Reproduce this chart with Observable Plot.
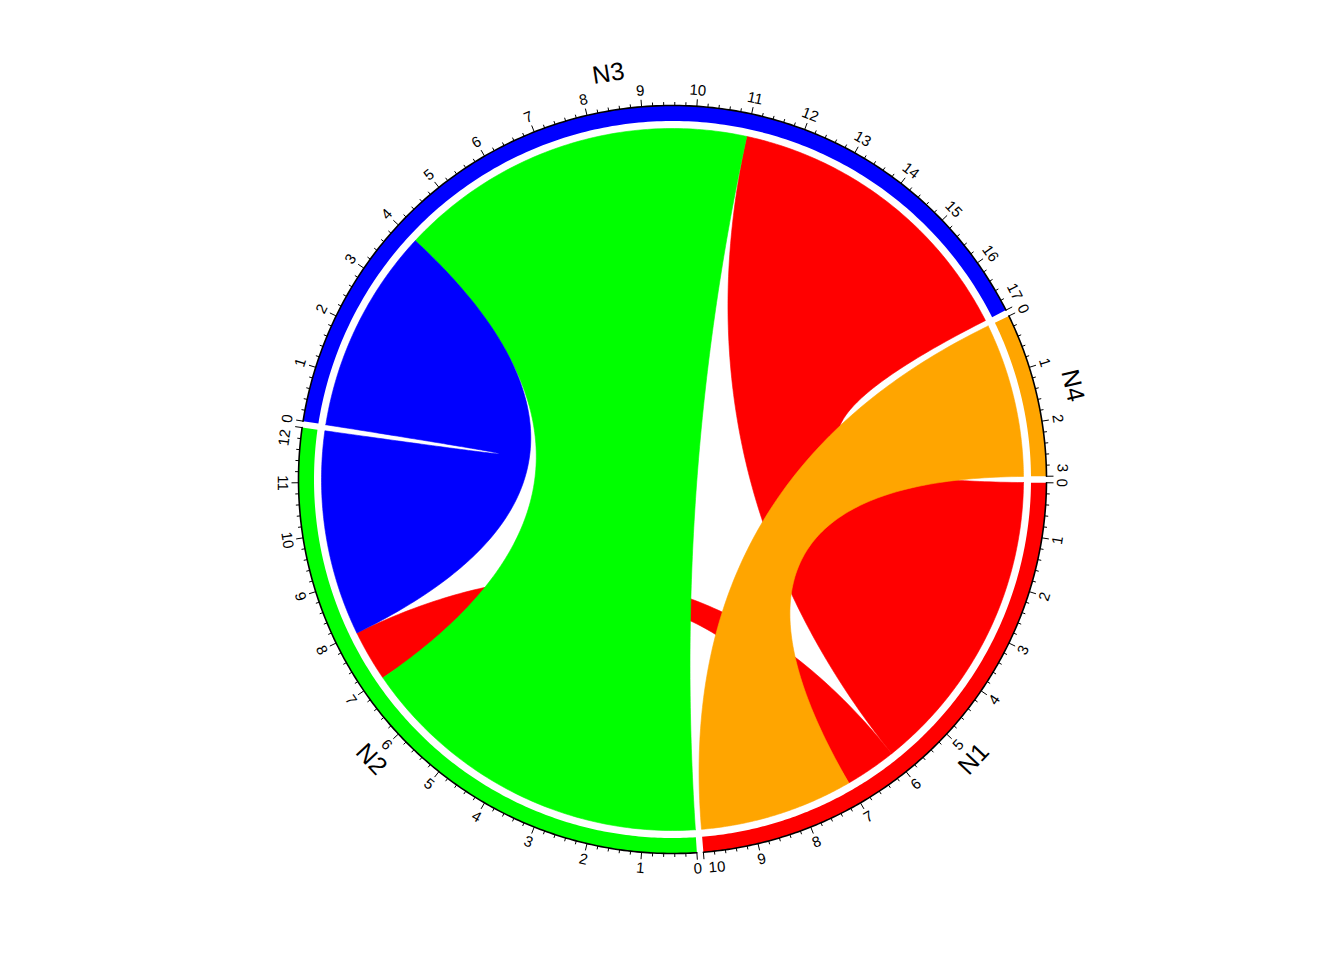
<!DOCTYPE html>
<html>
<head>
<meta charset="utf-8">
<script src="https://cdn.jsdelivr.net/npm/d3@7"></script>
<script src="https://cdn.jsdelivr.net/npm/@observablehq/plot@0.6"></script>
<style>
  html, body { margin: 0; padding: 0; background: #ffffff; }
  #chart { width: 1344px; height: 960px; }
</style>
</head>
<body>
<div id="chart"></div>
<script>
// ---------- data ----------
const sectors = ["N1", "N2", "N3", "N4"];
const sectorColors = ["#FF0000", "#00FF00", "#0000FF", "#FFA500"];
const linkFrom = ["N2", "N1", "N1", "N3", "N4"];
const linkTo = ["N3", "N3", "N2", "N2", "N1"];
const linkValue = [7, 6, 1, 4, 3];

// ---------- layout (style) ----------
const W = 1344, H = 960;
const CX = 672, CY = 479, RPX = 374;      // centre and axis radius in px
const GAP = 1;                             // degrees between sectors
const rChord = 351 / RPX, rGridIn = 358.5 / RPX, rAxis = 1;
const rMajor = 381 / RPX, rMinor = 377.5 / RPX;
const rTickLab = 390 / RPX, rName = 411 / RPX;
const lastShift = 4 / 390 * 180 / Math.PI;   // degrees: pull last label inside sector
const FONT = "'Liberation Sans', Arial, Helvetica, sans-serif";

// sector sizes from the links
const idx = Object.fromEntries(sectors.map((s, i) => [s, i]));
const sectorLen = sectors.map(s =>
  d3.sum(linkValue.filter((v, k) => linkFrom[k] === s || linkTo[k] === s)));
const total = d3.sum(sectorLen);
const dpu = (360 - GAP * sectors.length) / total;
const sectorStart = [];
{ let cum = 0; sectors.forEach((s, i) => { sectorStart.push(GAP / 2 + cum * dpu + i * GAP); cum += sectorLen[i]; }); }
const ang = (i, p) => sectorStart[i] + p * dpu;

// slot allocation: outgoing ends first, then incoming, in row order
const fromPos = [], toPos = [];
sectors.forEach((s, i) => {
  let c = 0;
  linkValue.forEach((v, k) => { if (linkFrom[k] === s) { fromPos[k] = [c, c + v]; c += v; } });
  linkValue.forEach((v, k) => { if (linkTo[k] === s) { toPos[k] = [c, c + v]; c += v; } });
});

const rad = a => a * Math.PI / 180;
const pt = (r, a) => [r * Math.cos(rad(a)), r * Math.sin(rad(a))];
function arcPts(r, a0, a1, n = 80) {
  const out = [];
  for (let j = 0; j <= n; j++) out.push(pt(r, a0 + (a1 - a0) * j / n));
  return out;
}
function bez(p0, p2, n = 120) {   // quadratic, control point at centre
  const out = [];
  for (let j = 0; j <= n; j++) {
    const t = j / n, a = (1 - t) * (1 - t), b = t * t;
    out.push([a * p0[0] + b * p2[0], a * p0[1] + b * p2[1]]);
  }
  return out;
}

// ribbons, drawn in order of source sector
const order = d3.range(linkValue.length).sort((a, b) => idx[linkFrom[a]] - idx[linkFrom[b]] || a - b);
const ribbonMarks = order.map(k => {
  const si = idx[linkFrom[k]], ti = idx[linkTo[k]];
  const s0 = ang(si, fromPos[k][0]), s1 = ang(si, fromPos[k][1]);
  const t0 = ang(ti, toPos[k][0]), t1 = ang(ti, toPos[k][1]);
  const pts = [
    ...arcPts(rChord, s0, s1),
    ...bez(pt(rChord, s1), pt(rChord, t0)),
    ...arcPts(rChord, t0, t1),
    ...bez(pt(rChord, t1), pt(rChord, s0))
  ].map(([x, y]) => ({x, y}));
  const col = sectorColors[si];
  return Plot.line(pts, {x: "x", y: "y", fill: col, stroke: col, strokeWidth: 0.6, curve: "linear"});
});

// grid track
const gridMarks = sectors.map((s, i) => {
  const a0 = sectorStart[i], a1 = ang(i, sectorLen[i]);
  const pts = [...arcPts(rAxis, a0, a1, 200), ...arcPts(rGridIn, a1, a0, 200)].map(([x, y]) => ({x, y}));
  return Plot.line(pts, {x: "x", y: "y", fill: sectorColors[i], stroke: "none", curve: "linear"});
});

// axis line
const axisPts = [];
sectors.forEach((s, i) => {
  arcPts(rAxis, sectorStart[i], ang(i, sectorLen[i]), 200).forEach(([x, y]) => axisPts.push({s, x, y}));
});

// ticks
const ticks = [];
const tickLabels = [];
const upper = a => (((a % 360) + 360) % 360) >= 180;
const rot = a => { const m = ((a % 360) + 360) % 360; return m >= 180 ? m + 90 : m - 90; };
sectors.forEach((s, i) => {
  for (let k = 0; k <= sectorLen[i] * 5; k++) {
    const a = ang(i, k / 5);
    const major = k % 5 === 0;
    const [x1, y1] = pt(rAxis, a), [x2, y2] = pt(major ? rMajor : rMinor, a);
    ticks.push({x1, y1, x2, y2});
    if (major) {
      const last = k / 5 === sectorLen[i];
      const la = last ? a - lastShift : a;
      const [x, y] = pt(rTickLab, la);
      const anchor = last ? (upper(a) ? "end" : "start") : "middle";
      tickLabels.push({x, y, text: String(k / 5), rotate: rot(a), anchor});
    }
  }
});
const names = sectors.map((s, i) => {
  const a = ang(i, sectorLen[i] / 2);
  const [x, y] = pt(rName, a);
  return {x, y, text: s, rotate: rot(a)};
});

const labelMark = anchor => Plot.text(tickLabels.filter(d => d.anchor === anchor), {
  x: "x", y: "y", text: "text", rotate: "rotate", fontSize: 15, fill: "#000000",
  textAnchor: anchor, lineAnchor: "middle", fontFamily: FONT
});

const chart = Plot.plot({
  width: W, height: H, margin: 0,
  x: {domain: [-CX / RPX, (W - CX) / RPX], range: [0, W], axis: null},
  y: {domain: [-CY / RPX, (H - CY) / RPX], range: [0, H], axis: null},
  style: {background: "#ffffff", fontFamily: FONT},
  marks: [
    ...ribbonMarks,
    ...gridMarks,
    Plot.line(axisPts, {x: "x", y: "y", z: "s", stroke: "#000000", strokeWidth: 1.6, curve: "linear"}),
    Plot.link(ticks, {x1: "x1", y1: "y1", x2: "x2", y2: "y2", stroke: "#000000", strokeWidth: 1}),
    labelMark("middle"), labelMark("start"), labelMark("end"),
    Plot.text(names, {x: "x", y: "y", text: "text", rotate: "rotate", fontSize: 25, fill: "#000000", textAnchor: "middle", lineAnchor: "middle", fontFamily: FONT})
  ]
});
document.getElementById("chart").appendChild(chart);
</script>
</body>
</html>
